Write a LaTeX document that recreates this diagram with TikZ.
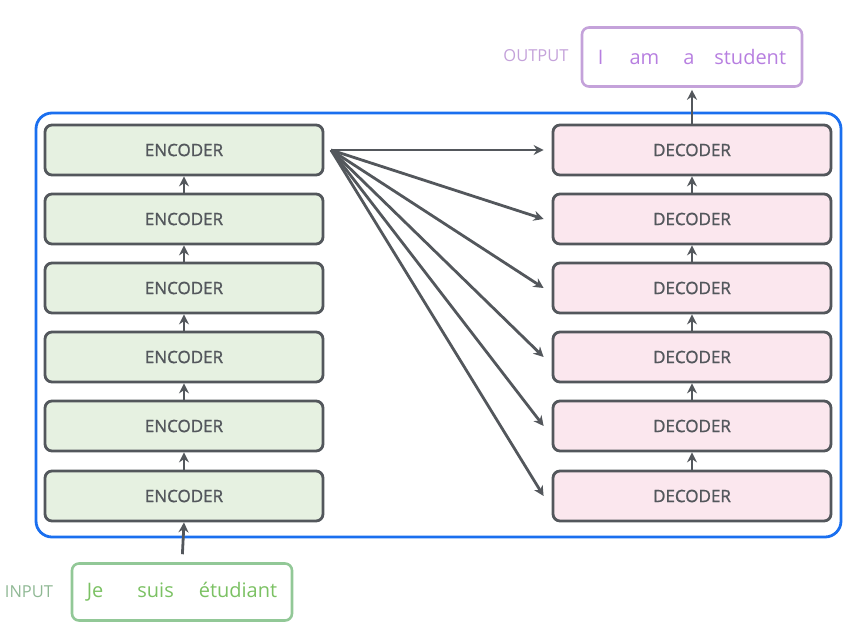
\documentclass[tikz,border=0pt]{standalone}
\usepackage{fontspec}
\setmainfont{Open Sans}
\newfontfamily\semibold{Open Sans}[FakeBold=1.2]
\usetikzlibrary{arrows.meta}
\definecolor{boxline}{HTML}{53575C}
\definecolor{encfill}{HTML}{E6F1E1}
\definecolor{decfill}{HTML}{FBE7EE}
\definecolor{frameblue}{HTML}{1A6FEF}
\definecolor{ingreen}{HTML}{92C897}
\definecolor{intext}{HTML}{7BC163}
\definecolor{inlabel}{HTML}{8FB894}
\definecolor{outpurple}{HTML}{C4A2DA}
\definecolor{outtext}{HTML}{B77FE0}
\tikzset{
	layer/.style={draw=boxline,line width=2.8pt,rounded corners=7pt,minimum width=278pt,minimum height=50pt,text=boxline,font=\semibold\fontsize{17}{19}\selectfont},
	link/.style={draw=boxline,line width=2.8pt,-{Stealth[length=10pt,width=10pt]}},
}
\begin{document}
\begin{tikzpicture}[x=1pt,y=-1pt]
			\useasboundingbox (0,0) rectangle (856,635);
			\draw[frameblue,line width=2.8pt,rounded corners=16pt] (36,113) rectangle (841,537);
			% the two stacks
			\foreach \i/\y in {1/496,2/426,3/357,4/288,5/219,6/150} {
				\node[layer,fill=encfill] (enc\i) at (184,\y) {ENCODER};
				\node[layer,fill=decfill] (dec\i) at (692,\y) {DECODER};
			}
			\foreach \i/\j in {1/2,2/3,3/4,4/5,5/6} {
				\draw[link] (enc\i.north) -- (enc\j.south);
				\draw[link] (dec\i.north) -- (dec\j.south);
			}
			% input and output
			\node[draw=ingreen,line width=2.6pt,rounded corners=7pt,minimum width=220pt,minimum height=57pt,text=intext,font=\fontsize{20}{22}\selectfont] (inp) at (182,592) {Je\hspace{1.7em}suis\hspace{1.25em}étudiant};
			\node[text=inlabel,font=\fontsize{16.5}{18}\selectfont] (inlab) at (29,592) {INPUT};
			\node[draw=outpurple,line width=2.6pt,rounded corners=7pt,minimum width=220pt,minimum height=59pt,text=outtext,font=\fontsize{20}{22}\selectfont] (out) at (692,57) {I\hspace{1.3em}am\hspace{1.2em}a\hspace{1em}student};
			\node[text=outpurple,font=\fontsize{16.5}{18}\selectfont] (outlab) at (536,56) {OUTPUT};
			\draw[link,shorten <=8pt] (inp.north) -- (enc1.south);
			\draw[link,shorten >=2pt] (dec6.north) -- (out.south);
			% encoder output goes to every decoder
			\coordinate (fan) at (331,150);
			\foreach \i in {1,...,6}
				\draw[link] (fan) -- ([xshift=-8pt]dec\i.west);
\end{tikzpicture}
\end{document}
